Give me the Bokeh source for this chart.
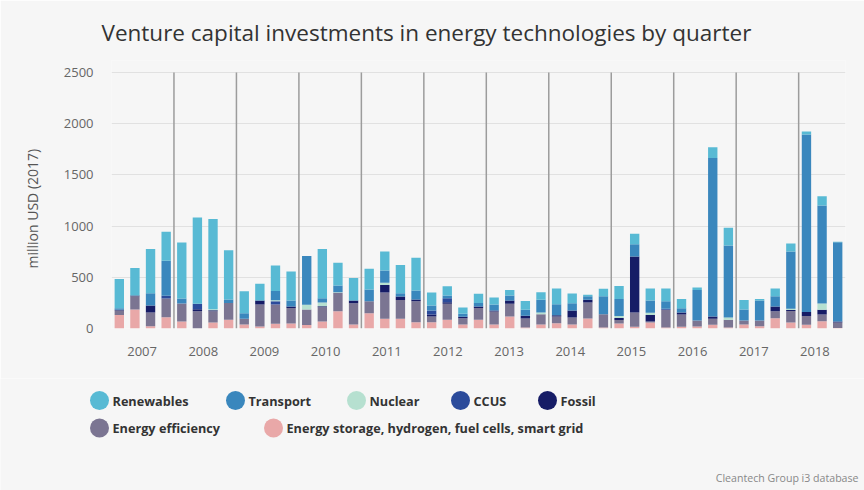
from bokeh.plotting import figure
from bokeh.models import Range1d, FixedTicker, CustomJSTickFormatter, ColumnDataSource, Title
from bokeh.embed import file_html
from bokeh.resources import INLINE
from bokeh.core.properties import value

# ---------------- data ----------------
years = [str(y) for y in range(2007, 2019)]
quarters = [f"{y} Q{q}" for y in years for q in range(1, 5)][:47]
y_ticks = [0, 500, 1000, 1500, 2000, 2500]

storage = [133, 185, 23, 110, 68, 0, 58, 85,
           39, 20, 46, 49, 33, 68, 169, 39,
           150, 94, 94, 62, 62, 85, 39, 85,
           39, 117, 10, 39, 52, 39, 98, 10,
           49, 16, 59, 10, 16, 20, 36, 10,
           39, 23, 101, 59, 36, 72, 6]
efficiency = [42, 130, 133, 182, 176, 169, 111, 163,
              55, 214, 189, 150, 153, 140, 179, 208,
              117, 257, 185, 205, 55, 156, 62, 114,
              127, 124, 88, 101, 65, 68, 156, 130,
              33, 140, 10, 172, 120, 59, 59, 75,
              39, 55, 68, 111, 85, 65, 53]
fossil = [7, 7, 68, 0, 0, 20, 10, 0,
          0, 39, 0, 16, 0, 10, 0, 26,
          0, 75, 33, 16, 20, 16, 13, 16,
          10, 33, 26, 0, 13, 68, 26, 0,
          20, 546, 62, 0, 20, 0, 23, 0,
          0, 0, 46, 10, 39, 46, 10]
ccus = [0, 0, 0, 29, 0, 52, 0, 0,
        0, 0, 30, 0, 0, 0, 0, 0,
        0, 0, 0, 0, 39, 39, 0, 0,
        0, 0, 0, 0, 0, 0, 0, 0,
        0, 0, 0, 10, 0, 0, 0, 0,
        0, 0, 0, 0, 0, 0, 0]
nuclear = [0, 0, 0, 0, 0, 0, 10, 0,
           0, 0, 10, 0, 46, 36, 7, 0,
           0, 20, 0, 0, 0, 0, 0, 0,
           0, 0, 0, 16, 0, 0, 0, 0,
           20, 0, 23, 0, 0, 0, 0, 23,
           0, 0, 0, 13, 0, 62, 0]
transport = [16, 0, 120, 341, 49, 0, 0, 36,
             55, 0, 91, 58, 475, 42, 65, 0,
             114, 120, 33, 88, 49, 26, 29, 33,
             59, 49, 59, 124, 107, 72, 36, 176,
             166, 120, 120, 75, 42, 296, 1547, 702,
             107, 195, 101, 559, 1735, 955, 773]
renewables = [286, 270, 432, 283, 546, 842, 881, 480,
              215, 163, 250, 283, 0, 481, 221, 221,
              202, 185, 276, 319, 127, 91, 62, 91,
              68, 52, 85, 75, 153, 94, 13, 72,
              127, 104, 117, 124, 91, 26, 104, 175,
              94, 16, 75, 78, 29, 91, 6]

keys = ["storage", "efficiency", "fossil", "ccus", "nuclear", "transport", "renewables"]
names = ["Energy storage, hydrogen, fuel cells, smart grid", "Energy efficiency",
         "Fossil", "CCUS", "Nuclear", "Transport", "Renewables"]
colors = ["#e9a8a8", "#7b7592", "#161c66", "#2b4b9b", "#b6e0d0", "#3a87bd", "#58bad4"]

# ---------------- styling / layout ----------------
BG = "#f6f6f6"
FONT = "Open Sans"
W = 864
H1, H2 = 378, 112                   # chart part, legend part
FL, FR, FB = 111, 845, 328          # frame edges on the page
Y_TOP = 72                          # page y of the top tick (2500)
FT = 60                             # frame top (a little head-room above the top tick)
y_end = y_ticks[-1] * (FB - FT) / (FB - Y_TOP)

src = ColumnDataSource(dict(
    x=[i + 0.5 for i in range(len(quarters))], quarter=quarters,
    storage=storage, efficiency=efficiency, fossil=fossil, ccus=ccus,
    nuclear=nuclear, transport=transport, renewables=renewables))

p = figure(width=W, height=H1, x_range=Range1d(0, len(quarters)), y_range=Range1d(0, y_end),
           output_backend="svg", toolbar_location=None,
           min_border_left=FL, min_border_right=W - FR, min_border_top=FT, min_border_bottom=H1 - FB,
           background_fill_color=BG, border_fill_color=BG, outline_line_color=None,
           title="Venture capital investments in energy technologies by quarter")
p.title.text_font = FONT
p.title.text_font_size = "22.5px"
p.title.text_font_style = "normal"
p.title.text_color = "#333333"
p.title.offset = -10
p.title.standoff = 26

p.vbar_stack(keys, x="x", width=0.6, source=src, fill_color=colors, line_color=None)

# year separators, running from the baseline to the top tick
bounds = [4 * k for k in range(1, len(years))]
p.segment(x0=bounds, y0=[y_ticks[0]] * len(bounds), x1=bounds, y1=[y_ticks[-1]] * len(bounds),
          line_color="#9c9c9c", line_width=1.5)

p.xgrid.visible = False
p.ygrid.grid_line_color = "#e1e1e1"
p.ygrid.ticker = FixedTicker(ticks=y_ticks)
p.yaxis.ticker = FixedTicker(ticks=y_ticks)

p.xaxis.ticker = FixedTicker(ticks=[(k + 0.5) * len(quarters) / len(years) for k in range(len(years))])
p.xaxis.formatter = CustomJSTickFormatter(args=dict(years=years, n=len(quarters)),
                                          code="return years[Math.round(tick*years.length/n - 0.5)];")

for ax in (p.xaxis, p.yaxis):
    ax.axis_line_color = None
    ax.major_tick_line_color = None
    ax.minor_tick_line_color = None
    ax.major_tick_out = 0
    ax.major_tick_in = 0
    ax.major_label_text_font = FONT
    ax.major_label_text_font_size = "13px"
    ax.major_label_text_color = "#666666"
p.xaxis.major_label_standoff = 18
p.yaxis.major_label_standoff = 18

# y-axis title as a side title, starting 60px above the baseline
p.add_layout(Title(text="million USD (2017)", align="left", vertical_align="middle", offset=60,
                   standoff=36, text_font=FONT, text_font_size="14px",
                   text_font_style="normal", text_color="#555555"), "left")

# ---------------- legend part (separate root, pixel coordinates) ----------------
leg_order = [6, 5, 4, 3, 2, 1, 0]
leg_cx = [99, 235, 356, 460, 547, 99, 273]
leg_cy = [22, 22, 22, 22, 22, 49.5, 49.5]

leg = figure(width=W, height=H2, x_range=Range1d(0, W), y_range=Range1d(H2, 0),
             output_backend="svg", toolbar_location=None, min_border=0,
             x_axis_location=None, y_axis_location=None, title=None,
             background_fill_color=BG, border_fill_color=BG, outline_line_color=None)
leg.xgrid.grid_line_color = None
leg.ygrid.grid_line_color = None
leg.scatter(x=leg_cx, y=leg_cy, size=19, marker="circle",
            fill_color=[colors[i] for i in leg_order], line_color=None)
leg.text(x=[c + 13 for c in leg_cx], y=leg_cy, text=[names[i] for i in leg_order],
         text_font=value(FONT), text_font_style="bold", text_font_size="12.7px",
         text_baseline="middle", text_color="#333333")
leg.text(x=[858], y=[99], text=["Cleantech Group i3 database"], text_align="right",
         text_baseline="middle", text_font=value(FONT), text_font_size="10.6px",
         text_color="#888888")

open("out.html", "w").write(file_html([p, leg], INLINE))
